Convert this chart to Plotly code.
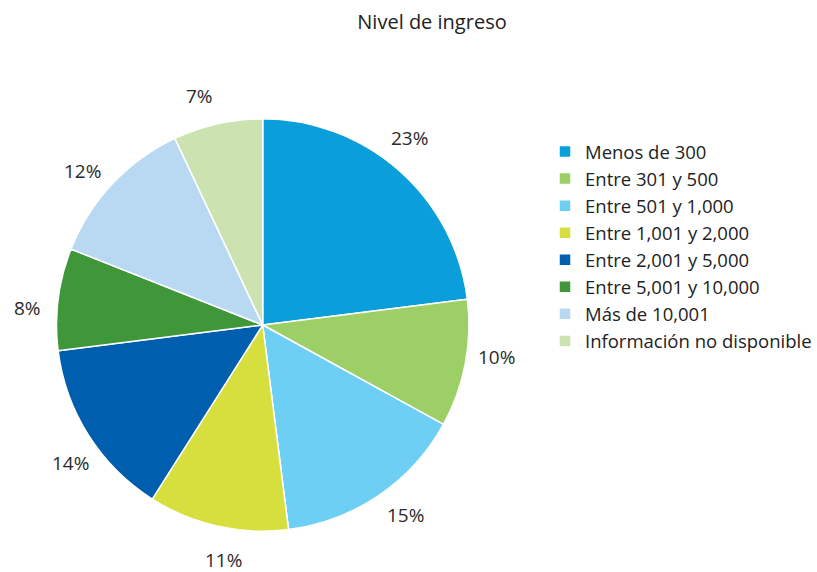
import math
import plotly.graph_objects as go

categories = ["Menos de 300", "Entre 301 y 500", "Entre 501 y 1,000", "Entre 1,001 y 2,000",
              "Entre 2,001 y 5,000", "Entre 5,001 y 10,000", "Más de 10,001",
              "Información no disponible"]
values = [23, 10, 15, 11, 14, 8, 12, 7]
colors = ["#0a9edb", "#9ccf66", "#6dcff4", "#d6df3d", "#005eaf", "#3f973a", "#b9d8f1", "#cce3b1"]

W, H = 817, 572
cx, cy, R = 265, 325, 208
label_r = 238
label_shift_deg = -3

fig = go.Figure(go.Pie(
    labels=categories, values=values, sort=False, direction="clockwise", rotation=0,
    marker=dict(colors=colors, line=dict(color="white", width=1.5)),
    textinfo="none", hoverinfo="label+percent",
    domain=dict(x=[(cx - R) / W, (cx + R) / W], y=[1 - (cy + R) / H, 1 - (cy - R) / H]),
))

total = sum(values)
cum = 0
annotations = []
for v in values:
    mid = (cum + v / 2) / total * 2 * math.pi + math.radians(label_shift_deg)
    cum += v
    px = cx + label_r * math.sin(mid)
    py = cy - label_r * math.cos(mid)
    annotations.append(dict(x=px / W, y=1 - py / H, xref="paper", yref="paper",
                            xanchor="center", yanchor="middle",
                            text=f"{round(v / total * 100)}%", showarrow=False,
                            font=dict(size=19, color="#2a2a2a")))

fig.update_layout(
    width=W, height=H,
    margin=dict(l=0, r=0, t=0, b=0),
    paper_bgcolor="white", plot_bgcolor="white",
    font=dict(family="Open Sans, Lato, sans-serif", color="#222222"),
    title=dict(text="Nivel de ingreso", x=432 / W, xanchor="center", y=1 - 22 / H, yanchor="middle",
               font=dict(size=20, color="#222222")),
    legend=dict(x=550 / W, y=1 - 133 / H, xanchor="left", yanchor="top",
                font=dict(size=18.5, color="#222222"), itemwidth=30, traceorder="normal"),
    annotations=annotations,
)

fig.write_html("out.html", config={"displayModeBar": False},
               post_script="document.body.style.margin='0';")
